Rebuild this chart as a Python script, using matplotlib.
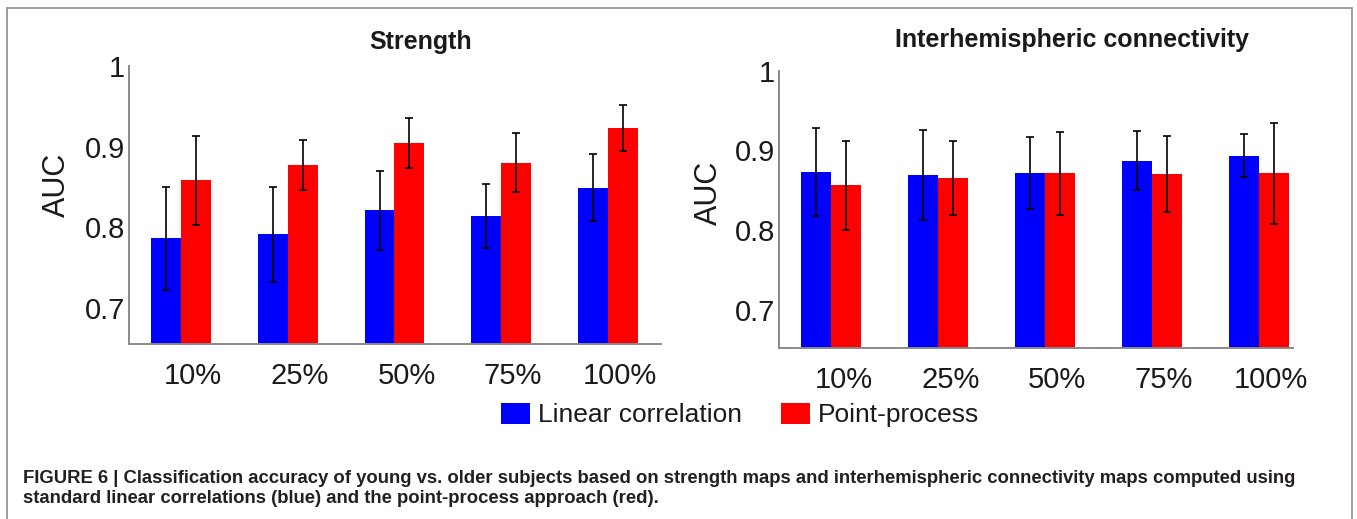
#!/usr/bin/env python3
"""
AUC of young vs. older subject classification, strength and
interhemispheric connectivity maps, linear correlation vs. point-process.
"""

import matplotlib
matplotlib.use('Agg')
import matplotlib.pyplot as plt
from matplotlib.patches import Rectangle
from matplotlib.transforms import ScaledTranslation
import numpy as np

plt.rcParams['font.family'] = ['Liberation Sans', 'DejaVu Sans']

# Data
thresholds = ['10%', '25%', '50%', '75%', '100%']

strength_linear = [0.786, 0.791, 0.821, 0.814, 0.849]
strength_linear_err = [0.064, 0.059, 0.049, 0.040, 0.042]
strength_pp = [0.858, 0.877, 0.904, 0.880, 0.923]
strength_pp_err = [0.055, 0.031, 0.031, 0.037, 0.028]

inter_linear = [0.873, 0.869, 0.871, 0.887, 0.893]
inter_linear_err = [0.055, 0.057, 0.045, 0.037, 0.027]
inter_pp = [0.856, 0.865, 0.871, 0.870, 0.871]
inter_pp_err = [0.056, 0.046, 0.052, 0.048, 0.063]

series_labels = ['Linear correlation', 'Point-process']
caption_lines = [
    'FIGURE 6 | Classification accuracy of young vs. older subjects based on strength maps '
    'and interhemispheric connectivity maps computed using',
    'standard linear correlations (blue) and the point-process approach (red).',
]

W, H = 1357, 519
BLUE = '#0000ff'
RED = '#ff0000'
AXIS_GRAY = '#8a8a8a'
TEXT = '#1a1a1a'


def px_axes(fig, left, top, right, bottom):
    """add axes from pixel box (origin top-left)"""
    return fig.add_axes([left / W, (H - bottom) / H, (right - left) / W, (bottom - top) / H])


def draw_panel(fig, ax, linear, linear_err, pp, pp_err, ylim, xlim, label_y):
    x = np.arange(1, len(thresholds) + 1)
    width = 0.28
    err_kw = dict(ecolor='black', elinewidth=1.2, capsize=3.0, capthick=1.2)
    b1 = ax.bar(x - width / 2, linear, width, yerr=linear_err, color=BLUE,
                error_kw=err_kw, label=series_labels[0])
    b2 = ax.bar(x + width / 2, pp, width, yerr=pp_err, color=RED,
                error_kw=err_kw, label=series_labels[1])

    ax.set_ylim(*ylim)
    ax.set_xlim(*xlim)
    ax.set_yticks([0.7, 0.8, 0.9, 1.0])
    ax.set_yticklabels(['0.7', '0.8', '0.9', '1'])
    ax.set_xticks(x)
    ax.set_xticklabels(thresholds)
    ax.tick_params(axis='both', length=0, labelsize=21, colors=TEXT)
    ax.tick_params(axis='y', pad=3)
    ax.tick_params(axis='x', pad=13)
    for lab in ax.get_xticklabels():
        lab.set_transform(lab.get_transform() + ScaledTranslation(0.12, 0, fig.dpi_scale_trans))

    for side in ('top', 'right'):
        ax.spines[side].set_visible(False)
    for side in ('left', 'bottom'):
        ax.spines[side].set_color(AXIS_GRAY)
        ax.spines[side].set_linewidth(1.4)

    ax.set_ylabel('AUC', fontsize=22, color=TEXT, va='center')
    ax.yaxis.set_label_coords(-0.136, label_y)
    return b1, b2


fig = plt.figure(figsize=(W / 100, H / 100), dpi=100)

ax1 = px_axes(fig, 129, 66, 661, 344)
b1, b2 = draw_panel(fig, ax1, strength_linear, strength_linear_err,
                    strength_pp, strength_pp_err,
                    ylim=(0.6547, 1.0), xlim=(0.51, 5.5), label_y=0.574)

ax2 = px_axes(fig, 779, 70.5, 1293, 348)
draw_panel(fig, ax2, inter_linear, inter_linear_err, inter_pp, inter_pp_err,
           ylim=(0.652, 1.0), xlim=(0.51, 5.32), label_y=0.56)

fig.text(420.5 / W, (H - 49) / H, 'Strength', ha='center', va='baseline',
         fontsize=18, fontweight='bold', color=TEXT)
fig.text(1072 / W, (H - 47) / H, 'Interhemispheric connectivity', ha='center',
         va='baseline', fontsize=18, fontweight='bold', color=TEXT)

fig.legend([b1, b2], series_labels, loc='center', bbox_to_anchor=(740 / W, (H - 415) / H),
           ncol=2, frameon=False, fontsize=19, handlelength=1.1, handleheight=0.87,
           handletextpad=0.3, columnspacing=1.45, borderpad=0, labelcolor=TEXT)

# caption
fig.text(23 / W, (H - 483) / H, caption_lines[0], ha='left', va='baseline',
         fontsize=13.3, fontweight='bold', color='#231f20')
fig.text(23 / W, (H - 503) / H, caption_lines[1], ha='left', va='baseline',
         fontsize=13.3, fontweight='bold', color='#231f20')

# frame around the figure panel
fig.add_artist(Rectangle((7 / W, -0.2), (1352 - 7) / W, (H - 8) / H + 0.2,
                         transform=fig.transFigure, fill=False,
                         edgecolor='#8c8c8c', linewidth=1.2))

fig.savefig('out.png', dpi=100)
